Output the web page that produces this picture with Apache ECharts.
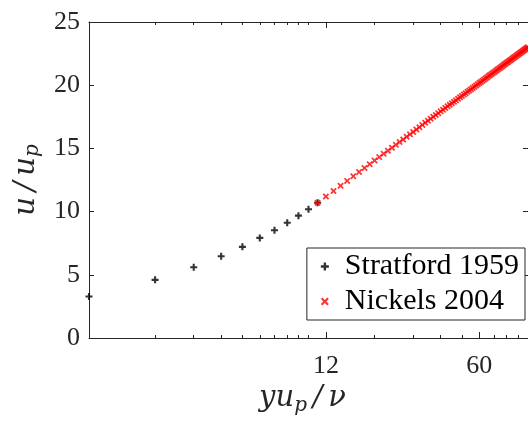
<!DOCTYPE html>
<html><head><meta charset="utf-8">
<script src="https://cdn.jsdelivr.net/npm/echarts@6/dist/echarts.min.js"></script>
<style>html,body{margin:0;padding:0;background:#fff}#c{width:528px;height:421px}</style>
</head><body><div id="c"></div>
<script>
const stratfordX = [1, 2, 3, 4, 5, 6, 7, 8, 9, 10, 11];
const stratfordY = [3.28, 4.60, 5.60, 6.47, 7.21, 7.92, 8.52, 9.12, 9.68, 10.18, 10.70];
const nickelsX = [11,12,13,14,15,16,17,18,19,20,21,22,23,24,25,26,27,28,29,30,31,32,33,34,35,36,37,38,39,40,41,42,43,44,45,46,47,48,49,50,51,52,53,54,55,56,57,58,59,60,61,62,63,64,65,66,67,68,69,70,71,72,73,74,75,76,77,78,79,80,81,82,83,84,85,86,87,88,89,90,91,92,93,94,95,96,97,98,99,100];
const nickelsY = [10.70,11.19,11.63,12.05,12.43,12.79,13.13,13.45,13.75,14.04,14.31,14.57,14.82,15.05,15.28,15.50,15.71,15.92,16.11,16.30,16.50,16.68,16.86,17.03,17.19,17.35,17.50,17.65,17.79,17.93,18.06,18.20,18.33,18.45,18.57,18.69,18.80,18.92,19.04,19.15,19.26,19.37,19.48,19.58,19.68,19.78,19.88,19.98,20.07,20.17,20.26,20.35,20.44,20.53,20.61,20.70,20.78,20.86,20.95,21.03,21.11,21.18,21.26,21.34,21.41,21.48,21.56,21.63,21.70,21.77,21.84,21.91,21.98,22.04,22.11,22.17,22.24,22.30,22.36,22.42,22.49,22.55,22.61,22.67,22.73,22.78,22.84,22.90,22.95,23.01];
const xMajorTicks = [12, 60];
const xMinorTicks = [2, 3, 4, 5, 6, 7, 8, 9, 10, 20, 30, 40, 50, 70, 80, 90];
const xRange = [1, 100];
const yRange = [0, 25];
const yStep = 5;
const seriesNames = ['Stratford 1959', 'Nickels 2004'];

const FONT = 'Liberation Serif';
const MATH = 'DejaVu Serif';
const AX = '#262626';
const PLUS = 'path://M3.5,0h3v3.5h3.5v3h-3.5v3.5h-3v-3.5h-3.5v-3h3.5z';
const CROSS = 'path://M1.9,0L5,3.1L8.1,0L10,1.9L6.9,5L10,8.1L8.1,10L5,6.9L1.9,10L0,8.1L3.1,5L0,1.9Z';

function zip(xs, ys) { return xs.map((x, i) => [x, ys[i]]); }

const nameRich = {
  i: { fontFamily: MATH, fontSize: 29, fontStyle: 'italic', color: AX, lineHeight: 34, verticalAlign: 'middle' },
  s: { fontFamily: MATH, fontSize: 20, fontStyle: 'italic', color: AX, lineHeight: 15, verticalAlign: 'bottom' }
};

function xAx(pos, ticks, len, main) {
  return {
    type: 'log', logBase: 10, min: xRange[0], max: xRange[1], position: pos,
    axisLine: { show: main, onZero: false, lineStyle: { color: AX, width: 1 } },
    axisTick: { show: true, inside: true, length: len, customValues: ticks, lineStyle: { color: AX, width: 1 } },
    axisLabel: { show: false },
    splitLine: { show: false }, minorTick: { show: false }, minorSplitLine: { show: false }
  };
}

const xAxes = [
  xAx('bottom', xMajorTicks, 6, true),
  xAx('bottom', xMinorTicks, 3, false),
  xAx('top', xMajorTicks, 6, true),
  xAx('top', xMinorTicks, 3, false)
];
xAxes[0].axisLabel = { show: true, customValues: xMajorTicks, fontFamily: FONT, fontSize: 26, color: AX, margin: 15 };
xAxes[0].name = '{i|yu}{s|p}{i|\u2009/\u2009ν}';
xAxes[0].nameLocation = 'middle';
xAxes[0].nameGap = 42;
xAxes[0].nameTextStyle = { rich: nameRich, padding: [0, 12, 0, 0] };

function yAx(pos, labels) {
  return {
    type: 'value', min: yRange[0], max: yRange[1], interval: yStep, position: pos,
    axisLine: { show: true, onZero: false, lineStyle: { color: AX, width: 1 } },
    axisTick: { show: true, inside: true, length: 5, lineStyle: { color: AX, width: 1 } },
    axisLabel: { show: labels, fontFamily: FONT, fontSize: 26, color: AX, margin: 9 },
    splitLine: { show: false }
  };
}
const yAxes = [yAx('left', true), yAx('right', false)];
yAxes[0].name = '{i|u\u2009/\u2009u}{s|p}';
yAxes[0].nameLocation = 'middle';
yAxes[0].nameRotate = 90;
yAxes[0].nameGap = 42;
yAxes[0].nameTextStyle = { rich: nameRich };

const chart = echarts.init(document.getElementById('c'), null, { renderer: 'canvas' });
chart.setOption({
  backgroundColor: '#fff',
  animation: false,
  grid: { left: 89, right: -4, top: 22, bottom: 83, containLabel: false },
  xAxis: xAxes,
  yAxis: yAxes,
  legend: {
    data: seriesNames,
    orient: 'vertical', right: 3, top: 248,
    itemWidth: 30, itemHeight: 8, itemGap: 4,
    padding: [3, 6, 3, 14],
    borderColor: AX, borderWidth: 1, backgroundColor: '#fff',
    textStyle: { fontFamily: FONT, fontSize: 30, color: '#000', lineHeight: 31 }
  },
  series: [
    {
      name: seriesNames[0], type: 'scatter', xAxisIndex: 0, yAxisIndex: 0,
      data: zip(stratfordX, stratfordY), symbol: PLUS, symbolSize: 7,
      itemStyle: { color: '#000' }, z: 2
    },
    {
      name: seriesNames[1], type: 'scatter', xAxisIndex: 0, yAxisIndex: 0,
      data: zip(nickelsX, nickelsY), symbol: CROSS, symbolSize: 6.5,
      itemStyle: { color: '#ff0000' }, z: 3
    }
  ]
});
</script></body></html>
